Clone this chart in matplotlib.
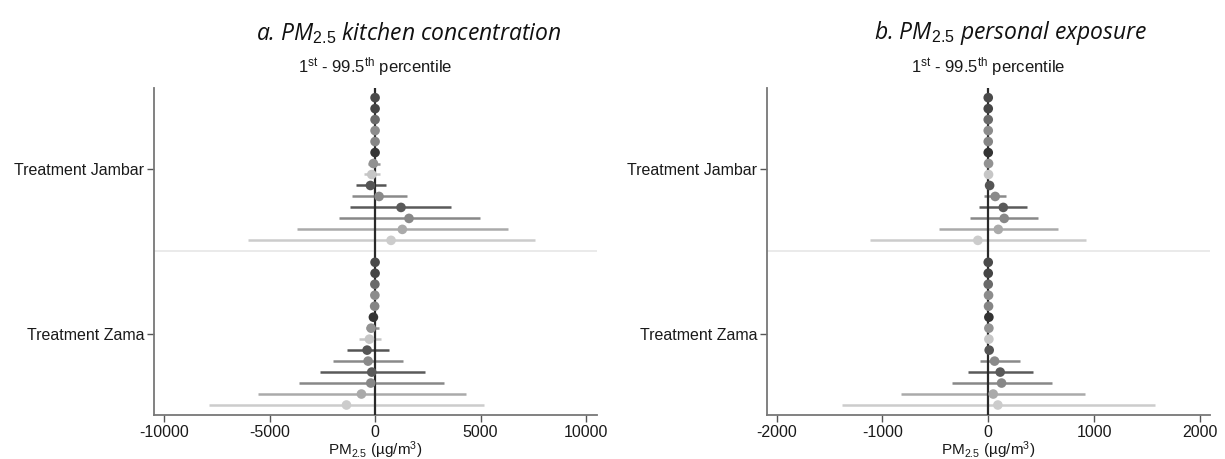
import matplotlib
matplotlib.use("Agg")
import matplotlib.pyplot as plt
import numpy as np

plt.rcParams['font.family'] = ['Liberation Sans', 'DejaVu Sans']
plt.rcParams['mathtext.fontset'] = 'custom'
plt.rcParams['mathtext.rm'] = 'Liberation Sans'
plt.rcParams['mathtext.it'] = 'Open Sans:italic'
plt.rcParams['mathtext.bf'] = 'Liberation Sans:bold'

groups = ["Treatment Jambar", "Treatment Zama"]

# Panel a: kitchen concentration (estimate, lower CI, upper CI), 14 rows per group
kitchen_jambar_est = [0, 0, 0, 0, 0, 0, -79, -158, -221, 189, 1230, 1608, 1293, 757]
kitchen_jambar_lo = [-20, -20, -20, -20, -20, -20, -315, -536, -883, -1072, -1167, -1719, -3722, -6040]
kitchen_jambar_hi = [20, 20, 20, 20, 20, 20, 221, 252, 505, 1498, 3596, 4983, 6293, 7601]
kitchen_zama_est = [0, 0, -10, -10, -20, -79, -189, -268, -378, -331, -158, -205, -647, -1356]
kitchen_zama_lo = [-20, -20, -30, -30, -40, -110, -441, -773, -1340, -2003, -2618, -3611, -5551, -7854]
kitchen_zama_hi = [20, 20, 10, 10, 0, -50, 189, 284, 647, 1340, 2366, 3249, 4289, 5157]

# Panel b: personal exposure
personal_jambar_est = [0, 0, 0, 0, 0, 0, 3, 3, 13, 66, 142, 151, 95, -98]
personal_jambar_lo = [-3, -3, -3, -3, -3, -3, -2, -5, 0, -44, -91, -176, -469, -1121]
personal_jambar_hi = [3, 3, 3, 3, 3, 3, 8, 11, 26, 167, 369, 469, 662, 926]
personal_zama_est = [0, 0, 0, 3, 3, 6, 6, 6, 9, 60, 113, 126, 47, 91]
personal_zama_lo = [-3, -3, -3, 0, 0, 2, 0, -4, -6, -82, -192, -340, -822, -1383]
personal_zama_hi = [3, 3, 3, 6, 6, 10, 12, 16, 24, 299, 425, 599, 910, 1575]

row_colors = ['#4a4a4a', '#454545', '#6a6a6a', '#8c8c8c', '#858585', '#333333', '#929292',
              '#c6c6c6', '#555555', '#8a8a8a', '#5a5a5a', '#888888', '#aaaaaa', '#cccccc']

titles = [r'a. PM$_{\mathit{2.5}}$ kitchen concentration',
          r'b. PM$_{\mathit{2.5}}$ personal exposure']
xticks_list = [[-10000, -5000, 0, 5000, 10000], [-2000, -1000, 0, 1000, 2000]]
xlims = [(-10480, 10520), (-2090, 2095)]

panels = [
    [(kitchen_jambar_est, kitchen_jambar_lo, kitchen_jambar_hi),
     (kitchen_zama_est, kitchen_zama_lo, kitchen_zama_hi)],
    [(personal_jambar_est, personal_jambar_lo, personal_jambar_hi),
     (personal_zama_est, personal_zama_lo, personal_zama_hi)],
]

W, H = 1225, 459
fig = plt.figure(figsize=(W / 100, H / 100), dpi=100)

ax_lefts = [154, 767]
ax_w = 443
ax_top, ax_bot = 88, 415

for p in range(2):
    ax = fig.add_axes([ax_lefts[p] / W, 1 - ax_bot / H, ax_w / W, (ax_bot - ax_top) / H])
    n = len(row_colors)
    for g, (est, lo, hi) in enumerate(panels[p]):
        base = g * (n + 1)
        for i in range(n):
            y = base + i
            ax.plot([lo[i], hi[i]], [y, y], color=row_colors[i], lw=1.8,
                    solid_capstyle='butt', zorder=2)
    ax.axvline(0, color='#2a2a2a', lw=1.6, zorder=3)
    for g, (est, lo, hi) in enumerate(panels[p]):
        base = g * (n + 1)
        ys = np.arange(n) + base
        ax.scatter(est, ys, s=48, c=row_colors, edgecolors='none', zorder=4)
    ax.axhline(n, color='#e6e6e6', lw=1.2, zorder=1)
    ax.set_ylim(2 * n + 0.91, -0.88)
    ax.set_xlim(*xlims[p])
    ax.set_yticks([(n - 1) / 2, n + 1 + (n - 1) / 2])
    ax.set_yticklabels(groups, fontsize=11.5, color='#1a1a1a')
    ax.set_xticks(xticks_list[p])
    ax.set_xticklabels([str(t) for t in xticks_list[p]], fontsize=11.5, color='#1a1a1a')
    for s in ['top', 'right']:
        ax.spines[s].set_visible(False)
    for s in ['left', 'bottom']:
        ax.spines[s].set_color('#777777')
        ax.spines[s].set_linewidth(1.3)
    ax.tick_params(axis='both', length=5, width=1, color='#555555', pad=2)
    ax.set_xlabel(r'PM$_{2.5}$ (µg/m$^{3}$)', fontsize=11, color='#1a1a1a', labelpad=0)
    cx = (ax_lefts[p] + ax_w / 2) / W
    fig.text(cx, 1 - 67 / H, r'1$^{\mathrm{st}}$ - 99.5$^{\mathrm{th}}$ percentile',
             ha='center', va='center', fontsize=12, color='#1a1a1a')

fig.text(409 / W, 1 - 33 / H, titles[0], ha='center', va='center', fontsize=16.5,
         family='Open Sans', style='italic', color='#111111')
fig.text(1011 / W, 1 - 33 / H, titles[1], ha='center', va='center', fontsize=16.5,
         family='Open Sans', style='italic', color='#111111')

fig.savefig('out.png', dpi=100)
